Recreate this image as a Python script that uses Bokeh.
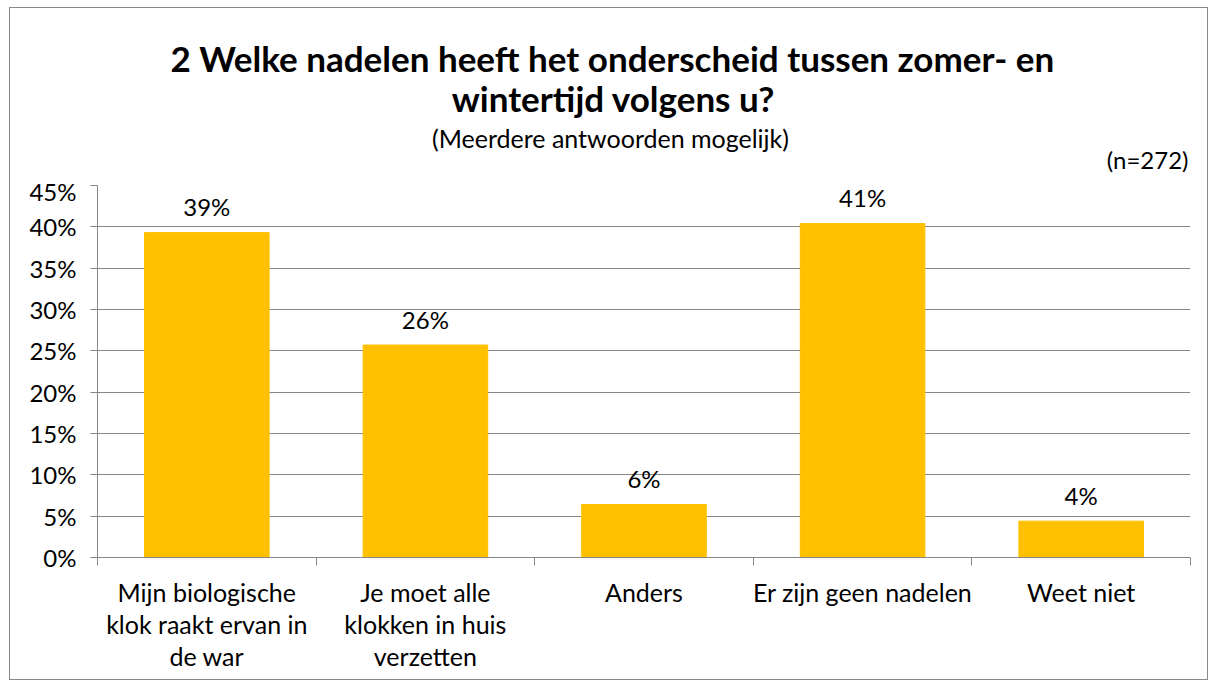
from bokeh.plotting import figure
from bokeh.layouts import column
from bokeh.models import FixedTicker, PrintfTickFormatter, ColumnDataSource, Range1d
from bokeh.embed import file_html
from bokeh.resources import INLINE
from bokeh.core.properties import value

categories = ["Mijn biologische\nklok raakt ervan in\nde war",
              "Je moet alle\nklokken in huis\nverzetten",
              "Anders",
              "Er zijn geen nadelen",
              "Weet niet"]
values = [39.3, 25.7, 6.4, 40.4, 4.4]
value_labels = ["39%", "26%", "6%", "41%", "4%"]
y_ticks = [0, 5, 10, 15, 20, 25, 30, 35, 40, 45]

title_lines = ["2 Welke nadelen heeft het onderscheid tussen zomer- en",
               "wintertijd volgens u?"]
subtitle = "(Meerdere antwoorden mogelijk)"
n_note = "(n=272)"

FONT = "Lato"
GRAY = "#868686"
BAR = "#FFC000"
W = 1197
HEAD_H = 168
TOP_PAD = 9
FRAME_H = 372
BOTTOM = 122
MAIN_H = TOP_PAD + FRAME_H + BOTTOM
BL, BR = 87, 17          # left / right borders (frame spans page x 97..1190)

# ---------- header (titles) ----------
head = figure(width=W, height=HEAD_H, x_range=Range1d(97, 1190), y_range=Range1d(HEAD_H, 0),
              output_backend="svg", toolbar_location=None,
              x_axis_location=None, y_axis_location=None,
              min_border_left=BL, min_border_right=BR,
              min_border_top=0, min_border_bottom=0)
head.grid.visible = False
head.outline_line_color = None
head.border_fill_color = "white"
head.background_fill_color = "white"

hsrc = ColumnDataSource(dict(x=[612, 613], y=[49, 89], t=title_lines))
head.text(x="x", y="y", text="t", source=hsrc, text_align="center",
          text_baseline="middle", text_font=value(FONT), text_font_size="35px",
          text_font_style="bold", text_color="black")
head.text(x=[610], y=[129], text=[subtitle], text_align="center",
          text_baseline="middle", text_font=value(FONT), text_font_size="25px",
          text_color="black")
head.text(x=[1188], y=[151], text=[n_note], text_align="right",
          text_baseline="middle", text_font=value(FONT), text_font_size="24px",
          text_color="black")

# ---------- main chart ----------
n = len(categories)
xs = [i + 0.5 for i in range(n)]
src = ColumnDataSource(dict(x=xs, top=values, lab=value_labels))

p = figure(width=W, height=MAIN_H, x_range=(0, n), y_range=(0, 45),
           output_backend="svg", toolbar_location=None,
           min_border_left=BL, min_border_right=BR,
           min_border_top=TOP_PAD, min_border_bottom=BOTTOM)
p.outline_line_color = None
p.background_fill_color = "white"
p.border_fill_color = "white"

p.vbar(x="x", top="top", width=0.57, color=BAR, source=src)
p.text(x="x", y="top", text="lab", source=src, text_align="center",
       text_baseline="middle", y_offset=-26, text_font=value(FONT),
       text_font_size="24px", text_color="black")

xa = p.xaxis[0]
xa.ticker = FixedTicker(ticks=xs, minor_ticks=list(range(n + 1)))
xa.major_label_overrides = {x: c for x, c in zip(xs, categories)}
xa.major_tick_line_color = None
xa.major_tick_out = 0
xa.major_tick_in = 0
xa.minor_tick_line_color = GRAY
xa.minor_tick_out = 8
xa.minor_tick_in = 0
xa.axis_line_color = GRAY
xa.major_label_text_font = FONT
xa.major_label_text_font_size = "25px"
xa.major_label_text_color = "black"
xa.major_label_standoff = 11
xa.major_label_text_line_height = 1.07

ya = p.yaxis[0]
ya.ticker = FixedTicker(ticks=y_ticks)
ya.formatter = PrintfTickFormatter(format="%d%%")
ya.major_tick_out = 7
ya.major_tick_in = 0
ya.minor_tick_line_color = None
ya.major_tick_line_color = GRAY
ya.axis_line_color = GRAY
ya.major_label_text_font = FONT
ya.major_label_text_font_size = "24px"
ya.major_label_text_color = "black"
ya.major_label_standoff = 14

p.xgrid.grid_line_color = None
p.ygrid.grid_line_color = GRAY
p.ygrid.grid_line_width = 1

layout = column(head, p, spacing=0)
layout.styles = {"border": "1px solid #898989", "background-color": "white",
                 "margin-left": "9px", "margin-top": "7px"}

open("out.html", "w").write(file_html(layout, INLINE))
